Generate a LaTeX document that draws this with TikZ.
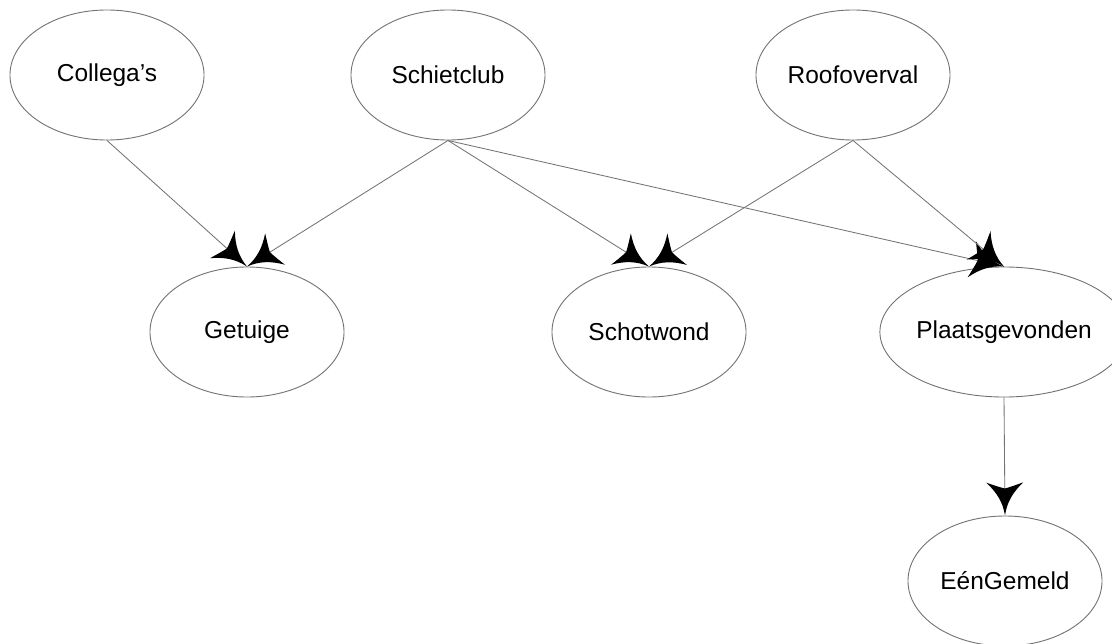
\documentclass[tikz,border=0pt]{standalone}
\usepackage{fontspec}
\setmainfont{Liberation Sans}
\usetikzlibrary{shapes.geometric,arrows.meta}

% concave fin-shaped arrow tip
\pgfdeclarearrow{
  name = Fin,
  parameters = {\the\pgfarrowlength},
  setup code = {
    \pgfarrowssettipend{0pt}
    \pgfarrowssetlineend{-0.7\pgfarrowlength}
    \pgfarrowssetbackend{-\pgfarrowlength}
    \pgfarrowssavethe\pgfarrowlength
  },
  drawing code = {
    \pgfpathmoveto{\pgfpointorigin}
    \pgfpathcurveto{\pgfpoint{-0.4\pgfarrowlength}{0.06\pgfarrowlength}}{\pgfpoint{-0.7\pgfarrowlength}{0.24\pgfarrowlength}}{\pgfpoint{-\pgfarrowlength}{0.56\pgfarrowlength}}
    \pgfpathcurveto{\pgfpoint{-0.9\pgfarrowlength}{0.27\pgfarrowlength}}{\pgfpoint{-0.84\pgfarrowlength}{0.1\pgfarrowlength}}{\pgfpoint{-0.82\pgfarrowlength}{0pt}}
    \pgfpathcurveto{\pgfpoint{-0.84\pgfarrowlength}{-0.1\pgfarrowlength}}{\pgfpoint{-0.9\pgfarrowlength}{-0.27\pgfarrowlength}}{\pgfpoint{-\pgfarrowlength}{-0.56\pgfarrowlength}}
    \pgfpathcurveto{\pgfpoint{-0.7\pgfarrowlength}{-0.24\pgfarrowlength}}{\pgfpoint{-0.4\pgfarrowlength}{-0.06\pgfarrowlength}}{\pgfpointorigin}
    \pgfpathclose
    \pgfusepathqfill
  },
  defaults = {length = 8.25mm}
}

\begin{document}
\begin{tikzpicture}[x=0.025cm, y=-0.025cm, var/.style = {draw=black!55, line width=0.65pt, ellipse, inner sep=0pt, minimum width=4.85cm, minimum height=3.25cm, font=\fontsize{17.4}{20}\selectfont}]
\useasboundingbox (0,0) rectangle (1112,644);
\node[var] (collegas) at (107, 75) { Collega’s };
\node[var] (schietclub) at (448, 75) { Schietclub };
\node[var] (roofoverval) at (853, 75) { Roofoverval };
\node[var] (getuige) at (247, 332) { Getuige };
\node[var] (schotwond) at (649, 332) { Schotwond };
\node[var, minimum width=5.5cm] (plaatsgevonden) at (1004, 332) { Plaatsgevonden };
\node[var] (eengemeld) at (1005, 581) { EénGemeld };

\begin{scope}[draw=black!55, line width=0.6pt, -{Fin[color=black]}]
\draw (collegas.south) -- (getuige.north);
\draw (schietclub.south) -- (getuige.north);
\draw (schietclub.south) -- (schotwond.north);
\draw (schietclub.south) -- (plaatsgevonden.north);
\draw (roofoverval.south) -- (schotwond.north);
\draw (roofoverval.south) -- (plaatsgevonden.north);
\draw (plaatsgevonden.south) -- (eengemeld.north);
\end{scope}
\end{tikzpicture}
\end{document}
